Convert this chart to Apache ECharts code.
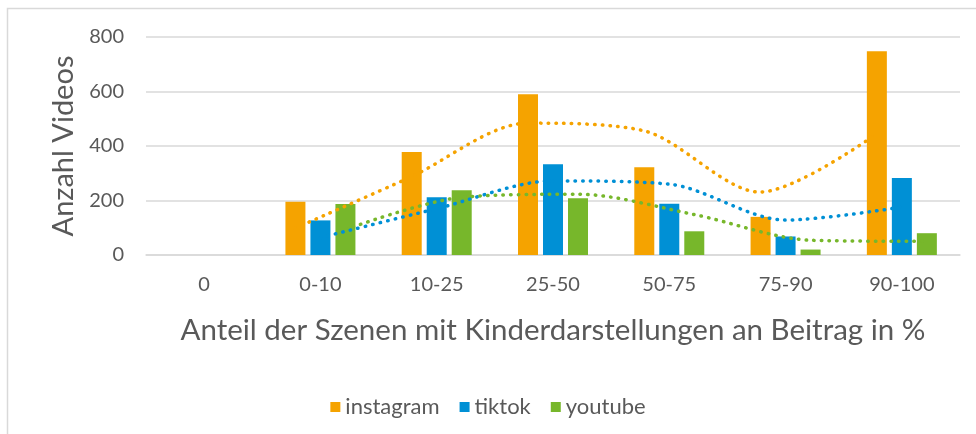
<!DOCTYPE html>
<html><head><meta charset="utf-8">
<script src="https://cdn.jsdelivr.net/npm/echarts@6/dist/echarts.min.js"></script>
<style>html,body{margin:0;padding:0;background:#fff}#c{width:976px;height:434px}</style>
</head><body><div id="c"></div>
<script>
const categories = ['0', '0-10', '10-25', '25-50', '50-75', '75-90', '90-100'];
const instagram = [0, 195, 378, 590, 322, 140, 748];
const tiktok = [0, 127, 212, 333, 188, 68, 283];
const youtube = [0, 187, 238, 208, 87, 20, 80];
// dotted trend lines (2-period moving average as drawn)
const instagramTrend = [null, 98, 287, 484, 456, 231, 444];
const tiktokTrend = [null, 64, 170, 272, 260, 128, 176];
const youtubeTrend = [null, 94, 212, 223, 148, 54, 50];
const yTicks = [0, 200, 400, 600, 800];

const colors = {instagram: '#F5A300', tiktok: '#0090D5', youtube: '#77B72B'};
const font = 'Lato, "Open Sans", sans-serif';
const txt = '#595959';

function trendData(arr, off) {
  const out = [];
  arr.forEach((v, i) => { if (v !== null) out.push([i + off, v]); });
  return out;
}
const off = 25.5 / 116.3;

const chart = echarts.init(document.getElementById('c'), null, {renderer: 'canvas'});
chart.setOption({
  animation: false,
  backgroundColor: '#fff',
  graphic: [{type: 'rect', shape: {x: 7.5, y: 8.5, width: 1100, height: 600},
    style: {fill: 'none', stroke: '#D9D9D9', lineWidth: 1.5}, silent: true}],
  grid: {left: 146, right: 16, top: 37, bottom: 179},
  legend: {
    data: ['instagram', 'tiktok', 'youtube'],
    left: 'center', top: 391,
    icon: 'rect', itemWidth: 10, itemHeight: 10, itemGap: 20,
    textStyle: {fontFamily: font, fontSize: 22, color: txt}
  },
  xAxis: [{
    type: 'category', data: categories,
    axisLine: {lineStyle: {color: '#D9D9D9', width: 1.5}},
    axisTick: {show: false},
    axisLabel: {fontFamily: font, fontSize: 20, color: txt, margin: 20},
    name: 'Anteil der Szenen mit Kinderdarstellungen an Beitrag in %',
    nameLocation: 'middle', nameGap: 60,
    nameTextStyle: {fontFamily: font, fontSize: 29.5, color: txt}
  }, {
    type: 'value', min: -0.5, max: 6.5, show: false
  }],
  yAxis: {
    type: 'value', min: 0, max: 800, interval: 200,
    axisLine: {show: false}, axisTick: {show: false},
    splitLine: {lineStyle: {color: '#D9D9D9', width: 1.5}},
    axisLabel: {fontFamily: font, fontSize: 20, color: txt, margin: 22,
      formatter: v => yTicks.includes(v) ? String(v) : ''},
    name: 'Anzahl Videos', nameLocation: 'middle', nameGap: 58,
    nameTextStyle: {fontFamily: font, fontSize: 29, color: txt}
  },
  series: [
    {name: 'instagram', type: 'bar', data: instagram, barWidth: 20, barGap: '25%',
      itemStyle: {color: colors.instagram}},
    {name: 'tiktok', type: 'bar', data: tiktok, barWidth: 20, barGap: '25%',
      itemStyle: {color: colors.tiktok}},
    {name: 'youtube', type: 'bar', data: youtube, barWidth: 20, barGap: '25%',
      itemStyle: {color: colors.youtube}},
    {name: 'instagram trend', type: 'line', xAxisIndex: 1, data: trendData(instagramTrend, -off),
      smooth: 0.3, symbol: 'none', z: 5,
      lineStyle: {color: colors.instagram, width: 3.5, type: [0.5, 7.2], cap: 'round'}},
    {name: 'tiktok trend', type: 'line', xAxisIndex: 1, data: trendData(tiktokTrend, 0),
      smooth: 0.3, symbol: 'none', z: 5,
      lineStyle: {color: colors.tiktok, width: 3.5, type: [0.5, 7.2], cap: 'round'}},
    {name: 'youtube trend', type: 'line', xAxisIndex: 1, data: trendData(youtubeTrend, off),
      smooth: 0.3, symbol: 'none', z: 5,
      lineStyle: {color: colors.youtube, width: 3.5, type: [0.5, 7.2], cap: 'round'}}
  ]
});
</script></body></html>
